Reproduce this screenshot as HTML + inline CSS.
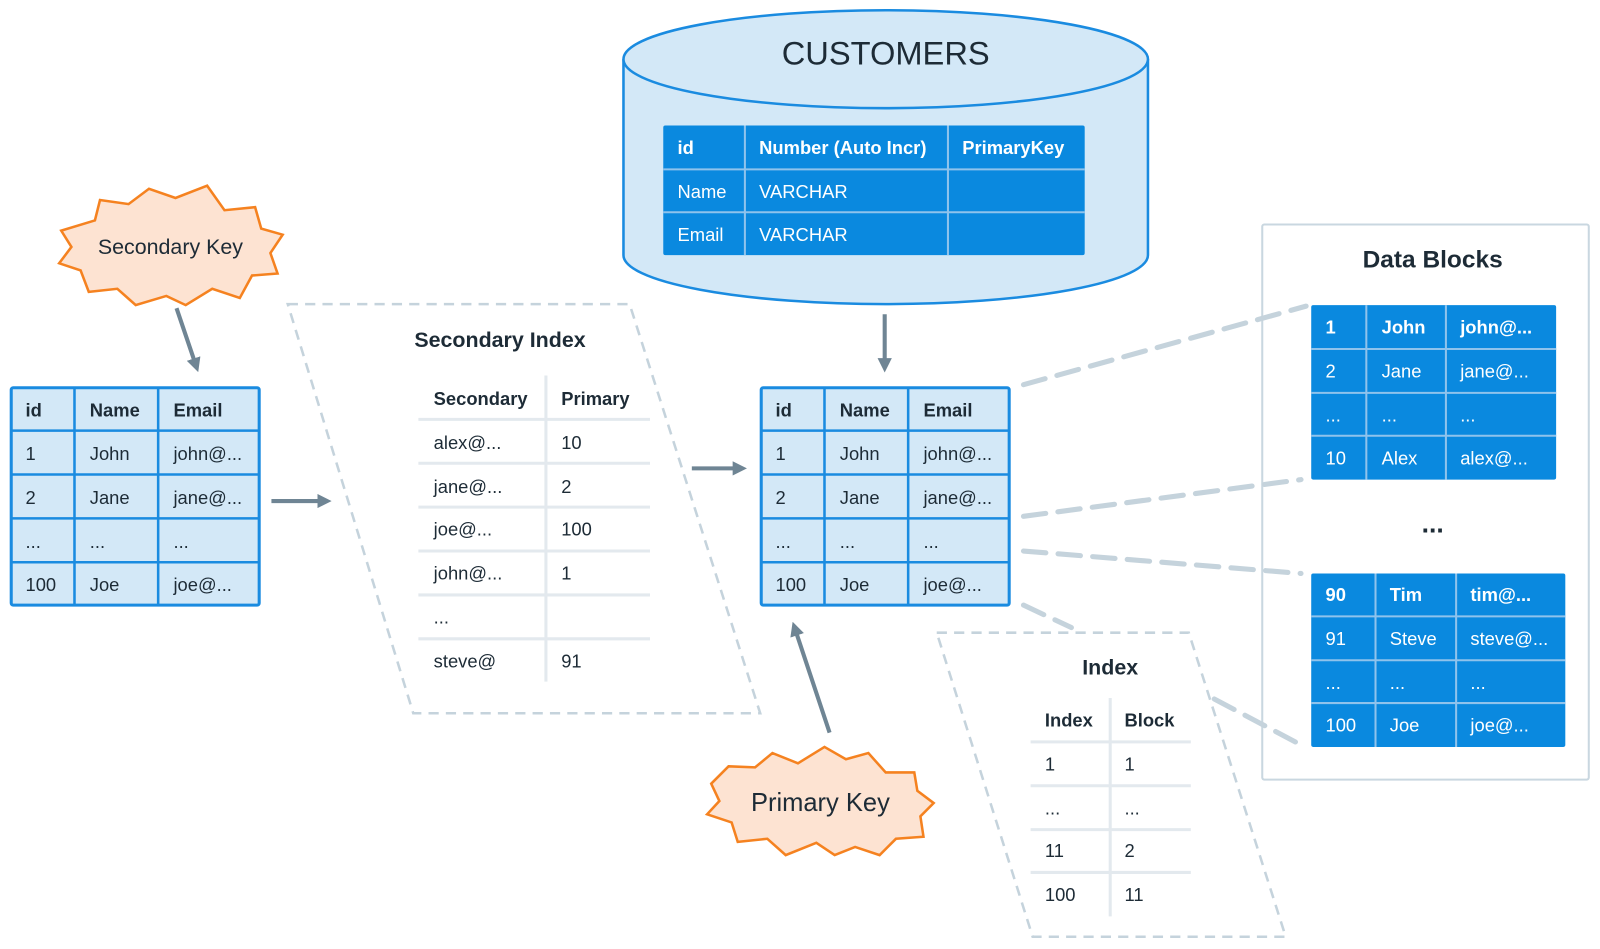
<!DOCTYPE html>
<html><head><meta charset="utf-8"><style>
html,body{margin:0;padding:0;background:#fff;}
svg{display:block;font-family:"Liberation Sans",sans-serif;}
.t{font-size:18px;fill:#1d2b36;}
.b{font-weight:bold;}
.w{fill:#fff;font-size:18px;}
</style></head><body>
<svg width="1600" height="949" viewBox="0 0 1568 930" xmlns="http://www.w3.org/2000/svg">
<defs>
<marker id="ah" markerWidth="14" markerHeight="14" refX="7" refY="7" orient="auto" markerUnits="userSpaceOnUse"><path d="M0,0 L14,7 L0,14 z" fill="#6f8594"/></marker>
</defs>

<rect x="1237" y="220" width="320" height="544" fill="#fff" stroke="#c9d7e0" stroke-width="2" rx="2"/>

<g stroke="#c5d3dc" stroke-width="5" stroke-dasharray="22,12" fill="none" stroke-linecap="round">
<line x1="1003" y1="377" x2="1280" y2="300"/>
<line x1="1003" y1="506" x2="1275" y2="470"/>
<line x1="1003" y1="540" x2="1275" y2="562"/>
<line x1="1003" y1="593" x2="1050" y2="615"/>
<line x1="1190" y1="685" x2="1275" y2="730"/>
</g>

<text x="1404" y="262" text-anchor="middle" class="t b" style="font-size:24px">Data Blocks</text>
<text x="1404" y="522" text-anchor="middle" class="t b" style="font-size:26px">...</text>

<g>
<rect x="1285" y="299" width="240" height="171" fill="#0a89df" rx="2"/>
<g stroke="#8fc3ec" stroke-width="2"><line x1="1339" y1="299" x2="1339" y2="470"/><line x1="1417" y1="299" x2="1417" y2="470"/><line x1="1285" y1="342" x2="1525" y2="342"/><line x1="1285" y1="385" x2="1525" y2="385"/><line x1="1285" y1="427" x2="1525" y2="427"/></g>
<text class="w b" x="1299" y="327">1</text><text class="w b" x="1354" y="327">John</text><text class="w b" x="1431" y="327">john@...</text>
<text class="w" x="1299" y="370">2</text><text class="w" x="1354" y="370">Jane</text><text class="w" x="1431" y="370">jane@...</text>
<text class="w" x="1299" y="413">...</text><text class="w" x="1354" y="413">...</text><text class="w" x="1431" y="413">...</text>
<text class="w" x="1299" y="455">10</text><text class="w" x="1354" y="455">Alex</text><text class="w" x="1431" y="455">alex@...</text>
</g>
<g>
<rect x="1285" y="562" width="249" height="170" fill="#0a89df" rx="2"/>
<g stroke="#8fc3ec" stroke-width="2"><line x1="1348" y1="562" x2="1348" y2="732"/><line x1="1427" y1="562" x2="1427" y2="732"/><line x1="1285" y1="604" x2="1534" y2="604"/><line x1="1285" y1="647" x2="1534" y2="647"/><line x1="1285" y1="689" x2="1534" y2="689"/></g>
<text class="w b" x="1299" y="589">90</text><text class="w b" x="1362" y="589">Tim</text><text class="w b" x="1441" y="589">tim@...</text>
<text class="w" x="1299" y="632">91</text><text class="w" x="1362" y="632">Steve</text><text class="w" x="1441" y="632">steve@...</text>
<text class="w" x="1299" y="675">...</text><text class="w" x="1362" y="675">...</text><text class="w" x="1441" y="675">...</text>
<text class="w" x="1299" y="717">100</text><text class="w" x="1362" y="717">Joe</text><text class="w" x="1441" y="717">joe@...</text>
</g>

<path d="M611,58 L611,250 A257,48 0 0 0 1125,250 L1125,58" fill="#d3e8f7" stroke="#1a8be0" stroke-width="2.5"/>
<ellipse cx="868" cy="58" rx="257" ry="48" fill="#d3e8f7" stroke="#1a8be0" stroke-width="2.5"/>
<text x="868" y="63" text-anchor="middle" class="t" style="font-size:32px">CUSTOMERS</text>
<rect x="650" y="123" width="413" height="127" fill="#0a89df" rx="2"/>
<g stroke="#8fc3ec" stroke-width="2"><line x1="730" y1="123" x2="730" y2="250"/><line x1="929" y1="123" x2="929" y2="250"/><line x1="650" y1="166" x2="1063" y2="166"/><line x1="650" y1="208" x2="1063" y2="208"/></g>
<text class="w b" x="664" y="151">id</text><text class="w b" x="744" y="151">Number (Auto Incr)</text><text class="w b" x="943" y="151">PrimaryKey</text>
<text class="w" x="664" y="194">Name</text><text class="w" x="744" y="194">VARCHAR</text>
<text class="w" x="664" y="236">Email</text><text class="w" x="744" y="236">VARCHAR</text>

<polygon points="282,298 617,298 745,699 405,699" fill="none" stroke="#c5d3dc" stroke-width="2.5" stroke-dasharray="10,7"/>
<text x="490" y="340" text-anchor="middle" class="t b" style="font-size:21px">Secondary Index</text>
<rect x="410" y="368" width="227" height="300" fill="#fff"/>
<g stroke="#e3e9ee" stroke-width="3"><line x1="535" y1="368" x2="535" y2="668"/>
<line x1="410" y1="411" x2="637" y2="411"/><line x1="410" y1="454" x2="637" y2="454"/><line x1="410" y1="497" x2="637" y2="497"/><line x1="410" y1="540" x2="637" y2="540"/><line x1="410" y1="583" x2="637" y2="583"/><line x1="410" y1="626" x2="637" y2="626"/></g>
<text class="t b" x="425" y="397">Secondary</text><text class="t b" x="550" y="397">Primary</text>
<text class="t" x="425" y="440">alex@...</text><text class="t" x="550" y="440">10</text>
<text class="t" x="425" y="483">jane@...</text><text class="t" x="550" y="483">2</text>
<text class="t" x="425" y="525">joe@...</text><text class="t" x="550" y="525">100</text>
<text class="t" x="425" y="568">john@...</text><text class="t" x="550" y="568">1</text>
<text class="t" x="425" y="611">...</text>
<text class="t" x="425" y="654">steve@</text><text class="t" x="550" y="654">91</text>

<polygon points="918,620 1165,620 1260,918 1012,918" fill="none" stroke="#c5d3dc" stroke-width="2.5" stroke-dasharray="10,7"/>
<text x="1088" y="661" text-anchor="middle" class="t b" style="font-size:21px">Index</text>
<rect x="1010" y="684" width="157" height="214" fill="#fff"/>
<g stroke="#e3e9ee" stroke-width="3"><line x1="1088" y1="684" x2="1088" y2="898"/>
<line x1="1010" y1="727" x2="1167" y2="727"/><line x1="1010" y1="770" x2="1167" y2="770"/><line x1="1010" y1="813" x2="1167" y2="813"/><line x1="1010" y1="855" x2="1167" y2="855"/></g>
<text class="t b" x="1024" y="712">Index</text><text class="t b" x="1102" y="712">Block</text>
<text class="t" x="1024" y="755">1</text><text class="t" x="1102" y="755">1</text>
<text class="t" x="1024" y="798">...</text><text class="t" x="1102" y="798">...</text>
<text class="t" x="1024" y="840">11</text><text class="t" x="1102" y="840">2</text>
<text class="t" x="1024" y="883">100</text><text class="t" x="1102" y="883">11</text>

<rect x="11" y="380" width="243" height="213" fill="#d3e8f7" stroke="#1a8be0" stroke-width="3" rx="2"/>
<g stroke="#1a8be0" stroke-width="2.5"><line x1="73" y1="380" x2="73" y2="593"/><line x1="155" y1="380" x2="155" y2="593"/>
<line x1="11" y1="422" x2="254" y2="422"/><line x1="11" y1="465" x2="254" y2="465"/><line x1="11" y1="508" x2="254" y2="508"/><line x1="11" y1="551" x2="254" y2="551"/></g>
<text class="t b" x="25" y="408">id</text><text class="t b" x="88" y="408">Name</text><text class="t b" x="170" y="408">Email</text>
<text class="t" x="25" y="451">1</text><text class="t" x="88" y="451">John</text><text class="t" x="170" y="451">john@...</text>
<text class="t" x="25" y="494">2</text><text class="t" x="88" y="494">Jane</text><text class="t" x="170" y="494">jane@...</text>
<text class="t" x="25" y="537">...</text><text class="t" x="88" y="537">...</text><text class="t" x="170" y="537">...</text>
<text class="t" x="25" y="579">100</text><text class="t" x="88" y="579">Joe</text><text class="t" x="170" y="579">joe@...</text>

<rect x="746" y="380" width="243" height="213" fill="#d3e8f7" stroke="#1a8be0" stroke-width="3" rx="2"/>
<g stroke="#1a8be0" stroke-width="2.5"><line x1="808" y1="380" x2="808" y2="593"/><line x1="890" y1="380" x2="890" y2="593"/>
<line x1="746" y1="422" x2="989" y2="422"/><line x1="746" y1="465" x2="989" y2="465"/><line x1="746" y1="508" x2="989" y2="508"/><line x1="746" y1="551" x2="989" y2="551"/></g>
<text class="t b" x="760" y="408">id</text><text class="t b" x="823" y="408">Name</text><text class="t b" x="905" y="408">Email</text>
<text class="t" x="760" y="451">1</text><text class="t" x="823" y="451">John</text><text class="t" x="905" y="451">john@...</text>
<text class="t" x="760" y="494">2</text><text class="t" x="823" y="494">Jane</text><text class="t" x="905" y="494">jane@...</text>
<text class="t" x="760" y="537">...</text><text class="t" x="823" y="537">...</text><text class="t" x="905" y="537">...</text>
<text class="t" x="760" y="579">100</text><text class="t" x="823" y="579">Joe</text><text class="t" x="905" y="579">joe@...</text>

<g stroke="#6f8594" stroke-width="4" marker-end="url(#ah)">
<line x1="173" y1="302" x2="192" y2="358"/>
<line x1="266" y1="491" x2="318" y2="491"/>
<line x1="678" y1="459" x2="725" y2="459"/>
<line x1="867" y1="308" x2="867" y2="358"/>
<line x1="813" y1="718" x2="779" y2="616"/>
</g>

<polygon points="93,216 98,196 126,200 146,185 172,194 203,182 220,206 250,203 256,224 277,230 265,248 272,268 247,270 235,292 208,283 182,299 163,290 133,299 115,283 87,286 79,265 58,258 70,242 60,226" fill="#fde3d2" stroke="#f58220" stroke-width="2.5"/>
<text x="167" y="249" text-anchor="middle" class="t" style="font-size:21px">Secondary Key</text>

<polygon points="714,751 740,752 757,738 782,748 808,732 829,744 851,738 868,757 896,757 899,775 915,787 902,800 905,820 878,822 862,838 838,830 818,838 800,826 770,838 752,822 723,825 717,806 693,798 705,785 697,768" fill="#fde3d2" stroke="#f58220" stroke-width="2.5"/>
<text x="804" y="795" text-anchor="middle" class="t" style="font-size:25px">Primary Key</text>
</svg>
</body></html>
